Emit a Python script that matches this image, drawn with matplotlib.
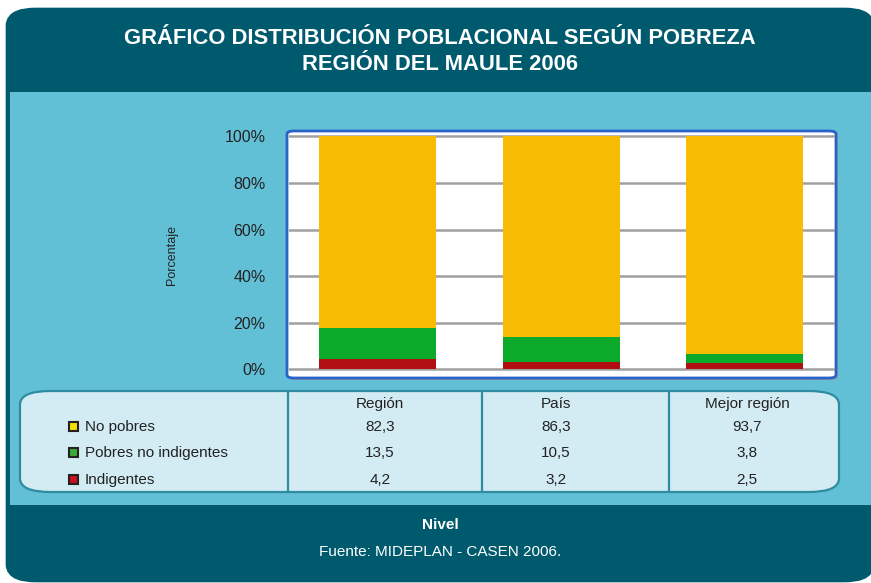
import matplotlib.pyplot as plt
from matplotlib.patches import FancyBboxPatch, Rectangle
import numpy as np

plt.rcParams['font.family'] = ['Liberation Sans', 'DejaVu Sans']

categories = ['Región', 'País', 'Mejor región']
series = ['No pobres', 'Pobres no indigentes', 'Indigentes']
no_pobres = [82.3, 86.3, 93.7]
pobres_no_ind = [13.5, 10.5, 3.8]
indigentes = [4.2, 3.2, 2.5]
yticks = [0, 20, 40, 60, 80, 100]

W, H = 871, 583
fig = plt.figure(figsize=(W / 100, H / 100), dpi=100)
fig.patch.set_facecolor('white')


def fx(x):
    return x / W


def fy(y):
    return 1 - y / H


def box(x0, y0, x1, y1, **kw):
    return FancyBboxPatch((fx(x0), fy(y1)), fx(x1 - x0), (y1 - y0) / H,
                          transform=fig.transFigure, **kw)


# background panels
fig.patches.append(box(14, 16, 866, 574, boxstyle='round,pad=0,rounding_size=0.025',
                       facecolor='#005A6E', edgecolor='#005A6E', linewidth=12,
                       mutation_aspect=H / W))
fig.patches.append(Rectangle((fx(10), fy(505)), fx(861), (505 - 92) / H,
                             transform=fig.transFigure, facecolor='#62C0D6',
                             edgecolor='none'))
# table panel
fig.patches.append(box(20, 391, 839, 492, boxstyle='round,pad=0,rounding_size=0.035',
                       facecolor='#D3ECF3', edgecolor='#2E8BA0', linewidth=1.6,
                       mutation_aspect=H / W))
# plot frame (shadow + white box)
fig.patches.append(box(289, 133, 838, 380, boxstyle='round,pad=0,rounding_size=0.008',
                       facecolor='#9A9A9A', edgecolor='none',
                       mutation_aspect=H / W))
fig.patches.append(box(287, 131, 836, 378, boxstyle='round,pad=0,rounding_size=0.008',
                       facecolor='white', edgecolor='#2A62C8', linewidth=2,
                       mutation_aspect=H / W))

fig.text(fx(440), fy(38), 'GRÁFICO DISTRIBUCIÓN POBLACIONAL SEGÚN POBREZA',
         color='white', fontsize=15.8, fontweight='bold', ha='center', va='center')
fig.text(fx(440), fy(64), 'REGIÓN DEL MAULE 2006',
         color='white', fontsize=15.8, fontweight='bold', ha='center', va='center')

ax = fig.add_axes([fx(289), fy(376), fx(835 - 289), (376 - 133) / H])
ax.set_zorder(5)
ax.patch.set_visible(False)
x = np.arange(len(categories))
bw = 0.637
ax.bar(x, indigentes, bw, color='#B00E10', zorder=3)
ax.bar(x, pobres_no_ind, bw, bottom=indigentes, color='#0BAA2A', zorder=3)
bottom2 = np.array(indigentes) + np.array(pobres_no_ind)
ax.bar(x, no_pobres, bw, bottom=bottom2, color='#F9BC05', zorder=3)
ax.set_xlim(-0.481, 2.49)
ax.set_ylim(-3, 101.5)
for t in yticks:
    ax.axhline(t, color='#A0A0A0', linewidth=1.8, zorder=1)
for s in ax.spines.values():
    s.set_visible(False)
ax.set_xticks([])
ax.set_yticks(yticks)
ax.set_yticklabels([f'{t}%' for t in yticks], fontsize=11.5, color='#222222')
ax.tick_params(axis='y', length=0, pad=17)
fig.text(fx(172), fy(255), 'Porcentaje', rotation=90, fontsize=9,
         color='#222222', ha='center', va='center')

# table
for xd in [288, 482, 669]:
    fig.lines.append(plt.Line2D([fx(xd), fx(xd)], [fy(392), fy(490)],
                                transform=fig.transFigure, color='#2E8BA0', lw=1.6))
col_x = [380, 556, 747]
row_y = [427, 453, 480]
colors = ['#F5E000', '#3BAA35', '#D0101A']
for cx, c in zip(col_x, categories):
    fig.text(fx(cx), fy(404), c, fontsize=11, color='#222222', ha='center', va='center')
rows = [no_pobres, pobres_no_ind, indigentes]
for ry, name, col, vals in zip(row_y, series, colors, rows):
    fig.patches.append(Rectangle((fx(69), fy(ry + 4)), fx(9), 9 / H,
                                 transform=fig.transFigure, facecolor=col,
                                 edgecolor='#222222', linewidth=1.5))
    fig.text(fx(85), fy(ry), name, fontsize=11, color='#222222', ha='left', va='center')
    for cx, v in zip(col_x, vals):
        fig.text(fx(cx), fy(ry), f'{v:.1f}'.replace('.', ','), fontsize=11,
                 color='#222222', ha='center', va='center')

fig.text(fx(440), fy(525), 'Nivel', fontsize=11, fontweight='bold', color='white',
         ha='center', va='center')
fig.text(fx(440), fy(552), 'Fuente: MIDEPLAN - CASEN 2006.', fontsize=11,
         color='white', ha='center', va='center')

fig.savefig('out.png', dpi=100, facecolor='white')
